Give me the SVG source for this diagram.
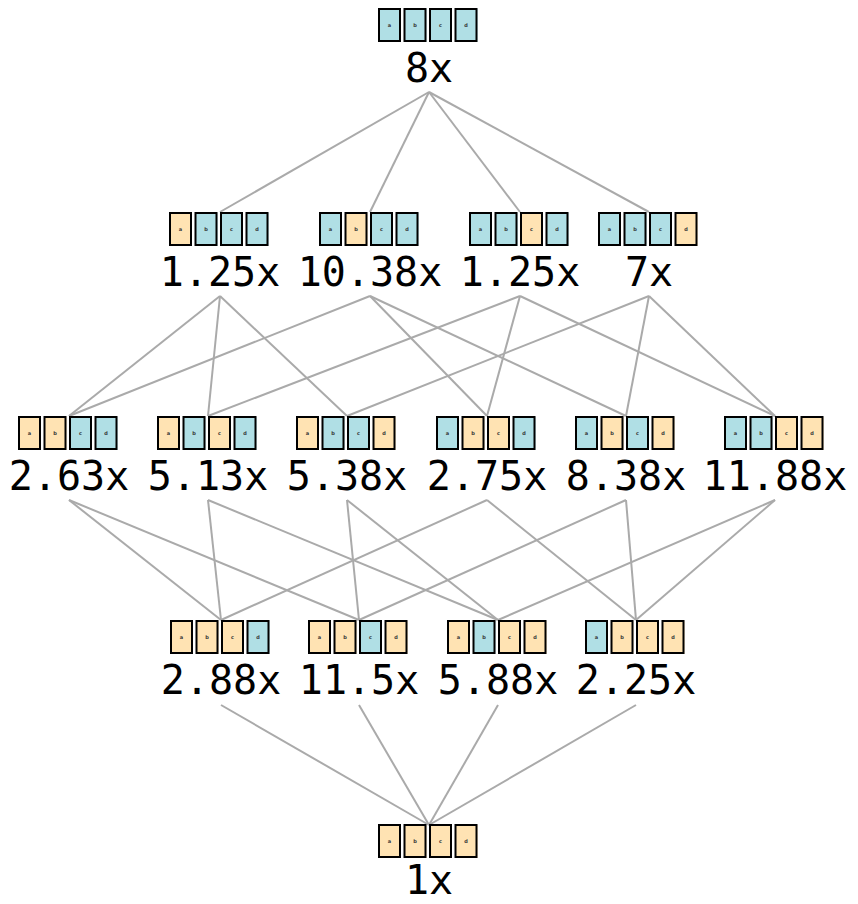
<svg xmlns="http://www.w3.org/2000/svg" width="858" height="904" viewBox="0 0 858 904">
<defs>
<style>
.bg{fill:#ffffff}
.e{stroke:#aaaaaa;stroke-width:2;fill:none}
.o{fill:#ffe3b3}
.b{fill:#b0dfe5}
.bd{fill:none;stroke:#000;stroke-width:2}
.l{font-family:"DejaVu Sans Mono","Liberation Mono",monospace;font-size:40px;text-anchor:middle;fill:#000}
.t{font-family:"DejaVu Sans","Liberation Sans",sans-serif;font-size:5px;font-weight:bold;text-anchor:middle;fill:#333}
</style>
<g id="cell">
<rect class="bd" x="0" y="0" width="21" height="32"/>
</g>
</defs>
<rect class="bg" x="0" y="0" width="858" height="904"/>
<g id="connectors">
<line class="e" x1="429" y1="92" x2="220" y2="212"/>
<line class="e" x1="429" y1="92" x2="370" y2="212"/>
<line class="e" x1="429" y1="92" x2="520" y2="212"/>
<line class="e" x1="429" y1="92" x2="649" y2="212"/>
<line class="e" x1="220" y1="296" x2="69" y2="416"/>
<line class="e" x1="220" y1="296" x2="208" y2="416"/>
<line class="e" x1="220" y1="296" x2="347" y2="416"/>
<line class="e" x1="370" y1="296" x2="69" y2="416"/>
<line class="e" x1="370" y1="296" x2="487" y2="416"/>
<line class="e" x1="370" y1="296" x2="626" y2="416"/>
<line class="e" x1="520" y1="296" x2="208" y2="416"/>
<line class="e" x1="520" y1="296" x2="487" y2="416"/>
<line class="e" x1="520" y1="296" x2="775" y2="416"/>
<line class="e" x1="649" y1="296" x2="347" y2="416"/>
<line class="e" x1="649" y1="296" x2="626" y2="416"/>
<line class="e" x1="649" y1="296" x2="775" y2="416"/>
<line class="e" x1="69" y1="500" x2="221" y2="620"/>
<line class="e" x1="69" y1="500" x2="359" y2="620"/>
<line class="e" x1="208" y1="500" x2="221" y2="620"/>
<line class="e" x1="208" y1="500" x2="498" y2="620"/>
<line class="e" x1="347" y1="500" x2="359" y2="620"/>
<line class="e" x1="347" y1="500" x2="498" y2="620"/>
<line class="e" x1="487" y1="500" x2="221" y2="620"/>
<line class="e" x1="487" y1="500" x2="636" y2="620"/>
<line class="e" x1="626" y1="500" x2="359" y2="620"/>
<line class="e" x1="626" y1="500" x2="636" y2="620"/>
<line class="e" x1="775" y1="500" x2="498" y2="620"/>
<line class="e" x1="775" y1="500" x2="636" y2="620"/>
<line class="e" x1="221" y1="705" x2="429" y2="825"/>
<line class="e" x1="359" y1="705" x2="429" y2="825"/>
<line class="e" x1="498" y1="705" x2="429" y2="825"/>
<line class="e" x1="636" y1="705" x2="429" y2="825"/>
</g>

<g id="n_abcd_blue" transform="translate(429,8)">
<rect class="b" x="-50" y="1" width="22" height="33"/><rect class="b" x="-24.5" y="1" width="22" height="33"/><rect class="b" x="1" y="1" width="22" height="33"/><rect class="b" x="26.5" y="1" width="22" height="33"/>
<use href="#cell" x="-50" y="1"/><use href="#cell" x="-24.5" y="1"/><use href="#cell" x="1" y="1"/><use href="#cell" x="26.5" y="1"/>
<text class="t" x="-39.5" y="19">a</text><text class="t" x="-14" y="19">b</text><text class="t" x="11.5" y="19">c</text><text class="t" x="37" y="19">d</text>
<text class="l" x="0" y="74">8x</text>
</g>

<g id="n_r2_1" transform="translate(220,212)">
<rect class="o" x="-50" y="1" width="22" height="33"/><rect class="b" x="-24.5" y="1" width="22" height="33"/><rect class="b" x="1" y="1" width="22" height="33"/><rect class="b" x="26.5" y="1" width="22" height="33"/>
<use href="#cell" x="-50" y="1"/><use href="#cell" x="-24.5" y="1"/><use href="#cell" x="1" y="1"/><use href="#cell" x="26.5" y="1"/>
<text class="t" x="-39.5" y="19">a</text><text class="t" x="-14" y="19">b</text><text class="t" x="11.5" y="19">c</text><text class="t" x="37" y="19">d</text>
<text class="l" x="0" y="74">1.25x</text>
</g>
<g id="n_r2_2" transform="translate(370,212)">
<rect class="b" x="-50" y="1" width="22" height="33"/><rect class="o" x="-24.5" y="1" width="22" height="33"/><rect class="b" x="1" y="1" width="22" height="33"/><rect class="b" x="26.5" y="1" width="22" height="33"/>
<use href="#cell" x="-50" y="1"/><use href="#cell" x="-24.5" y="1"/><use href="#cell" x="1" y="1"/><use href="#cell" x="26.5" y="1"/>
<text class="t" x="-39.5" y="19">a</text><text class="t" x="-14" y="19">b</text><text class="t" x="11.5" y="19">c</text><text class="t" x="37" y="19">d</text>
<text class="l" x="0" y="74">10.38x</text>
</g>
<g id="n_r2_3" transform="translate(520,212)">
<rect class="b" x="-50" y="1" width="22" height="33"/><rect class="b" x="-24.5" y="1" width="22" height="33"/><rect class="o" x="1" y="1" width="22" height="33"/><rect class="b" x="26.5" y="1" width="22" height="33"/>
<use href="#cell" x="-50" y="1"/><use href="#cell" x="-24.5" y="1"/><use href="#cell" x="1" y="1"/><use href="#cell" x="26.5" y="1"/>
<text class="t" x="-39.5" y="19">a</text><text class="t" x="-14" y="19">b</text><text class="t" x="11.5" y="19">c</text><text class="t" x="37" y="19">d</text>
<text class="l" x="0" y="74">1.25x</text>
</g>
<g id="n_r2_4" transform="translate(649,212)">
<rect class="b" x="-50" y="1" width="22" height="33"/><rect class="b" x="-24.5" y="1" width="22" height="33"/><rect class="b" x="1" y="1" width="22" height="33"/><rect class="o" x="26.5" y="1" width="22" height="33"/>
<use href="#cell" x="-50" y="1"/><use href="#cell" x="-24.5" y="1"/><use href="#cell" x="1" y="1"/><use href="#cell" x="26.5" y="1"/>
<text class="t" x="-39.5" y="19">a</text><text class="t" x="-14" y="19">b</text><text class="t" x="11.5" y="19">c</text><text class="t" x="37" y="19">d</text>
<text class="l" x="0" y="74">7x</text>
</g>

<g id="n_r3_1" transform="translate(69,416)">
<rect class="o" x="-50" y="1" width="22" height="33"/><rect class="o" x="-24.5" y="1" width="22" height="33"/><rect class="b" x="1" y="1" width="22" height="33"/><rect class="b" x="26.5" y="1" width="22" height="33"/>
<use href="#cell" x="-50" y="1"/><use href="#cell" x="-24.5" y="1"/><use href="#cell" x="1" y="1"/><use href="#cell" x="26.5" y="1"/>
<text class="t" x="-39.5" y="19">a</text><text class="t" x="-14" y="19">b</text><text class="t" x="11.5" y="19">c</text><text class="t" x="37" y="19">d</text>
<text class="l" x="0" y="74">2.63x</text>
</g>
<g id="n_r3_2" transform="translate(208,416)">
<rect class="o" x="-50" y="1" width="22" height="33"/><rect class="b" x="-24.5" y="1" width="22" height="33"/><rect class="o" x="1" y="1" width="22" height="33"/><rect class="b" x="26.5" y="1" width="22" height="33"/>
<use href="#cell" x="-50" y="1"/><use href="#cell" x="-24.5" y="1"/><use href="#cell" x="1" y="1"/><use href="#cell" x="26.5" y="1"/>
<text class="t" x="-39.5" y="19">a</text><text class="t" x="-14" y="19">b</text><text class="t" x="11.5" y="19">c</text><text class="t" x="37" y="19">d</text>
<text class="l" x="0" y="74">5.13x</text>
</g>
<g id="n_r3_3" transform="translate(347,416)">
<rect class="o" x="-50" y="1" width="22" height="33"/><rect class="b" x="-24.5" y="1" width="22" height="33"/><rect class="b" x="1" y="1" width="22" height="33"/><rect class="o" x="26.5" y="1" width="22" height="33"/>
<use href="#cell" x="-50" y="1"/><use href="#cell" x="-24.5" y="1"/><use href="#cell" x="1" y="1"/><use href="#cell" x="26.5" y="1"/>
<text class="t" x="-39.5" y="19">a</text><text class="t" x="-14" y="19">b</text><text class="t" x="11.5" y="19">c</text><text class="t" x="37" y="19">d</text>
<text class="l" x="0" y="74">5.38x</text>
</g>
<g id="n_r3_4" transform="translate(487,416)">
<rect class="b" x="-50" y="1" width="22" height="33"/><rect class="o" x="-24.5" y="1" width="22" height="33"/><rect class="o" x="1" y="1" width="22" height="33"/><rect class="b" x="26.5" y="1" width="22" height="33"/>
<use href="#cell" x="-50" y="1"/><use href="#cell" x="-24.5" y="1"/><use href="#cell" x="1" y="1"/><use href="#cell" x="26.5" y="1"/>
<text class="t" x="-39.5" y="19">a</text><text class="t" x="-14" y="19">b</text><text class="t" x="11.5" y="19">c</text><text class="t" x="37" y="19">d</text>
<text class="l" x="0" y="74">2.75x</text>
</g>
<g id="n_r3_5" transform="translate(626,416)">
<rect class="b" x="-50" y="1" width="22" height="33"/><rect class="o" x="-24.5" y="1" width="22" height="33"/><rect class="b" x="1" y="1" width="22" height="33"/><rect class="o" x="26.5" y="1" width="22" height="33"/>
<use href="#cell" x="-50" y="1"/><use href="#cell" x="-24.5" y="1"/><use href="#cell" x="1" y="1"/><use href="#cell" x="26.5" y="1"/>
<text class="t" x="-39.5" y="19">a</text><text class="t" x="-14" y="19">b</text><text class="t" x="11.5" y="19">c</text><text class="t" x="37" y="19">d</text>
<text class="l" x="0" y="74">8.38x</text>
</g>
<g id="n_r3_6" transform="translate(775,416)">
<rect class="b" x="-50" y="1" width="22" height="33"/><rect class="b" x="-24.5" y="1" width="22" height="33"/><rect class="o" x="1" y="1" width="22" height="33"/><rect class="o" x="26.5" y="1" width="22" height="33"/>
<use href="#cell" x="-50" y="1"/><use href="#cell" x="-24.5" y="1"/><use href="#cell" x="1" y="1"/><use href="#cell" x="26.5" y="1"/>
<text class="t" x="-39.5" y="19">a</text><text class="t" x="-14" y="19">b</text><text class="t" x="11.5" y="19">c</text><text class="t" x="37" y="19">d</text>
<text class="l" x="0" y="74">11.88x</text>
</g>

<g id="n_r4_1" transform="translate(221,620)">
<rect class="o" x="-50" y="1" width="22" height="33"/><rect class="o" x="-24.5" y="1" width="22" height="33"/><rect class="o" x="1" y="1" width="22" height="33"/><rect class="b" x="26.5" y="1" width="22" height="33"/>
<use href="#cell" x="-50" y="1"/><use href="#cell" x="-24.5" y="1"/><use href="#cell" x="1" y="1"/><use href="#cell" x="26.5" y="1"/>
<text class="t" x="-39.5" y="19">a</text><text class="t" x="-14" y="19">b</text><text class="t" x="11.5" y="19">c</text><text class="t" x="37" y="19">d</text>
<text class="l" x="0" y="74">2.88x</text>
</g>
<g id="n_r4_2" transform="translate(359,620)">
<rect class="o" x="-50" y="1" width="22" height="33"/><rect class="o" x="-24.5" y="1" width="22" height="33"/><rect class="b" x="1" y="1" width="22" height="33"/><rect class="o" x="26.5" y="1" width="22" height="33"/>
<use href="#cell" x="-50" y="1"/><use href="#cell" x="-24.5" y="1"/><use href="#cell" x="1" y="1"/><use href="#cell" x="26.5" y="1"/>
<text class="t" x="-39.5" y="19">a</text><text class="t" x="-14" y="19">b</text><text class="t" x="11.5" y="19">c</text><text class="t" x="37" y="19">d</text>
<text class="l" x="0" y="74">11.5x</text>
</g>
<g id="n_r4_3" transform="translate(498,620)">
<rect class="o" x="-50" y="1" width="22" height="33"/><rect class="b" x="-24.5" y="1" width="22" height="33"/><rect class="o" x="1" y="1" width="22" height="33"/><rect class="o" x="26.5" y="1" width="22" height="33"/>
<use href="#cell" x="-50" y="1"/><use href="#cell" x="-24.5" y="1"/><use href="#cell" x="1" y="1"/><use href="#cell" x="26.5" y="1"/>
<text class="t" x="-39.5" y="19">a</text><text class="t" x="-14" y="19">b</text><text class="t" x="11.5" y="19">c</text><text class="t" x="37" y="19">d</text>
<text class="l" x="0" y="74">5.88x</text>
</g>
<g id="n_r4_4" transform="translate(636,620)">
<rect class="b" x="-50" y="1" width="22" height="33"/><rect class="o" x="-24.5" y="1" width="22" height="33"/><rect class="o" x="1" y="1" width="22" height="33"/><rect class="o" x="26.5" y="1" width="22" height="33"/>
<use href="#cell" x="-50" y="1"/><use href="#cell" x="-24.5" y="1"/><use href="#cell" x="1" y="1"/><use href="#cell" x="26.5" y="1"/>
<text class="t" x="-39.5" y="19">a</text><text class="t" x="-14" y="19">b</text><text class="t" x="11.5" y="19">c</text><text class="t" x="37" y="19">d</text>
<text class="l" x="0" y="74">2.25x</text>
</g>

<g id="n_abcd_orange" transform="translate(429,824)">
<rect class="o" x="-50" y="1" width="22" height="33"/><rect class="o" x="-24.5" y="1" width="22" height="33"/><rect class="o" x="1" y="1" width="22" height="33"/><rect class="o" x="26.5" y="1" width="22" height="33"/>
<use href="#cell" x="-50" y="1"/><use href="#cell" x="-24.5" y="1"/><use href="#cell" x="1" y="1"/><use href="#cell" x="26.5" y="1"/>
<text class="t" x="-39.5" y="19">a</text><text class="t" x="-14" y="19">b</text><text class="t" x="11.5" y="19">c</text><text class="t" x="37" y="19">d</text>
<text class="l" x="0" y="70">1x</text>
</g>
</svg>
